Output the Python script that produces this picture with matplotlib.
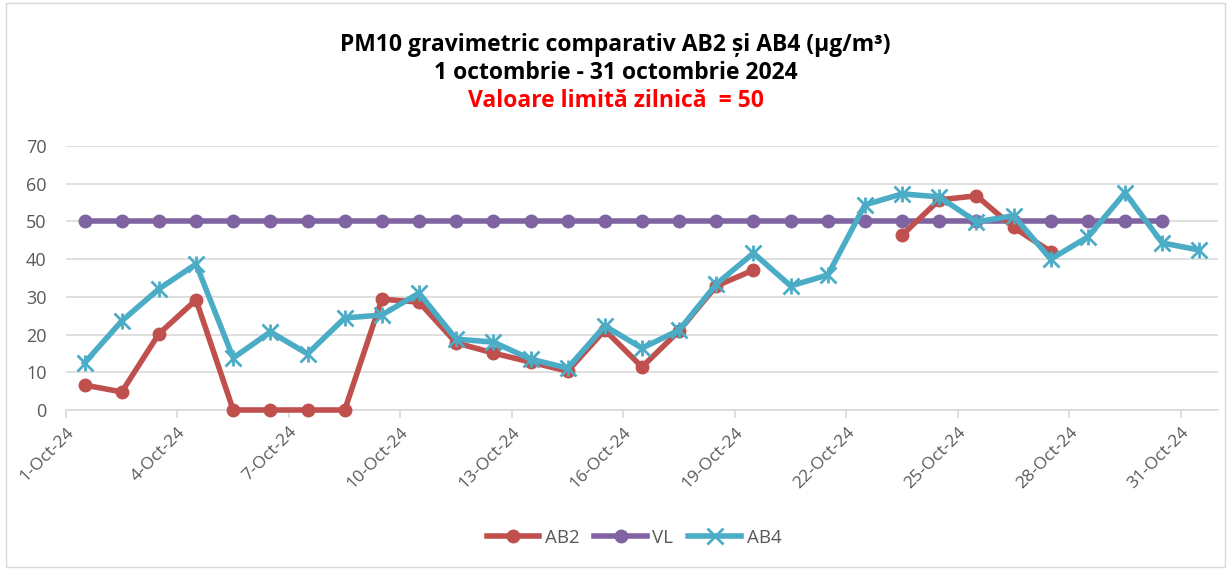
import numpy as np
import matplotlib
matplotlib.use("Agg")
import matplotlib.pyplot as plt
from matplotlib.patches import Rectangle

nan = np.nan

days = [f"{d}-Oct-24" for d in range(1, 32)]

ab2 = [6.6, 4.8, 20.2, 29.2, 0, 0, 0, 0, 29.4, 28.6,
       17.8, 15.1, 12.7, 10.3, 21.2, 11.4, 21.0, 32.9, 37.1, nan,
       nan, nan, 46.4, 55.7, 56.8, 48.4, 42.0, nan, nan, nan, nan]
vl = [50] * 30 + [nan]
ab4 = [12.5, 23.6, 32.1, 38.7, 13.8, 20.7, 14.9, 24.4, 25.2, 31.0,
       18.8, 18.0, 13.5, 11.1, 22.3, 16.4, 21.2, 33.4, 41.6, 32.9,
       35.8, 54.4, 57.3, 56.5, 49.9, 51.5, 40.0, 45.9, 57.6, 44.3, 42.4]

tick_labels = days[::3]

plt.rcParams['font.family'] = ['Open Sans', 'DejaVu Sans']

fig = plt.figure(figsize=(12.31, 5.70), dpi=100)
ax = fig.add_axes([66 / 1231, 1 - 410 / 570, (1218 - 66) / 1231, (410 - 146) / 570])

x = np.arange(len(days))
ax.plot(x, ab2, color="#c0504d", lw=4, marker="o", ms=9, label="AB2", zorder=3, clip_on=False)
ax.plot(x, vl, color="#8064a2", lw=4, marker="o", ms=9, label="VL", zorder=2, clip_on=False)
ax.plot(x, ab4, color="#4bacc6", lw=4, marker="x", ms=11, mew=2, label="AB4", zorder=4, clip_on=False)
# asterisk look: add a vertical stroke to the x marker
ax.plot(x, ab4, color="#4bacc6", lw=0, marker="|", ms=11, mew=2, zorder=4, clip_on=False)

ax.set_xlim(-0.5, len(days) - 0.5)
ax.set_ylim(0, 70)
ax.set_yticks(range(0, 71, 10))
ax.set_xticks(np.arange(-0.5, len(days) - 0.5, 3))
ax.set_xticklabels(tick_labels, rotation=45, ha="right", rotation_mode="anchor")

ax.grid(axis="y", color="#d9d9d9", lw=1.2)
ax.set_axisbelow(True)
for s in ["top", "right", "left"]:
    ax.spines[s].set_visible(False)
ax.spines["bottom"].set_color("#d9d9d9")
ax.spines["bottom"].set_linewidth(1.2)
ax.tick_params(axis="y", length=0, pad=14, labelsize=13, labelcolor="#595959")
ax.tick_params(axis="x", length=6, color="#d9d9d9", width=1.2, labelsize=12.5,
               labelcolor="#595959", pad=4)

fig.text(0.5, 1 - 45 / 570, "PM10 gravimetric comparativ AB2 și AB4 (µg/m³)",
         ha="center", va="center", fontsize=16.5, fontweight="bold")
fig.text(0.5, 1 - 73 / 570, "1 octombrie - 31 octombrie 2024",
         ha="center", va="center", fontsize=16.5, fontweight="bold")
fig.text(0.5, 1 - 101 / 570, "Valoare limită zilnică  = 50",
         ha="center", va="center", fontsize=16.5, fontweight="bold", color="#ff0000")

h, l = ax.get_legend_handles_labels()
fig.legend(h[:3], l[:3], loc="center", bbox_to_anchor=(0.515, 1 - 538 / 570), ncol=3,
           frameon=False, fontsize=13.5, handlelength=2.8, columnspacing=0.8,
           handletextpad=0.3, labelcolor="#595959")

fig.patches.append(Rectangle((6 / 1231, 0.005), 1 - 12 / 1231, 0.99, transform=fig.transFigure,
                             fill=False, edgecolor="#d9d9d9", lw=1))

fig.savefig("out.png", dpi=100)
